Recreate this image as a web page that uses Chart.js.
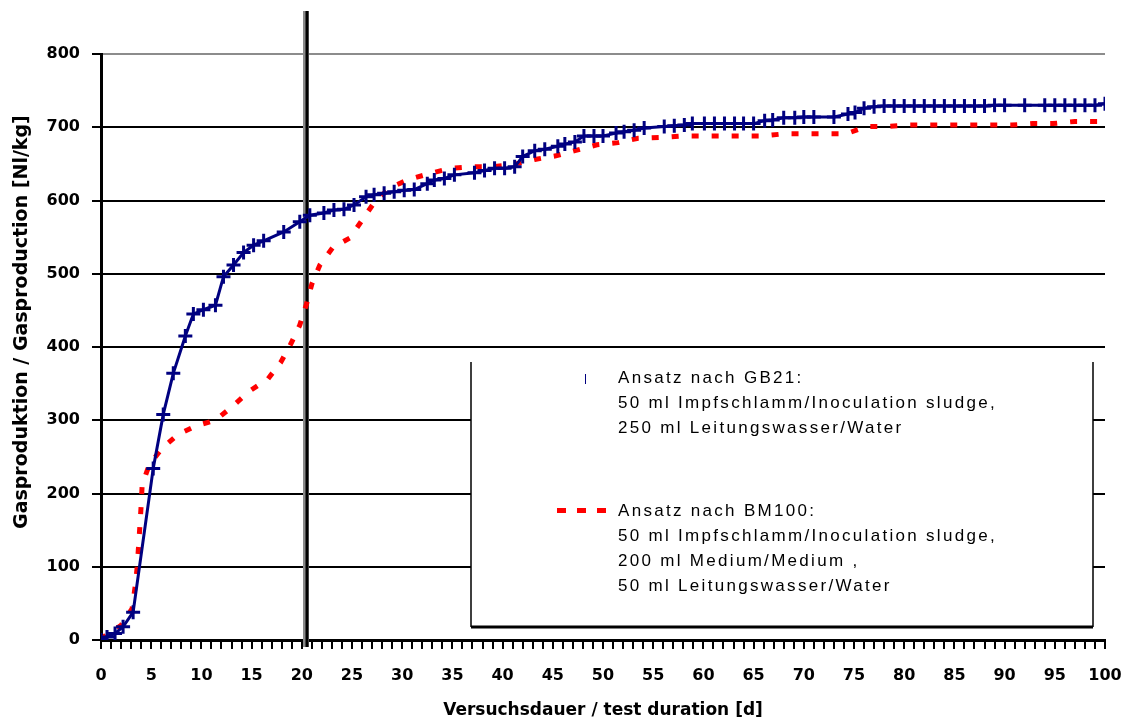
<!DOCTYPE html>
<html>
<head>
<meta charset="utf-8">
<script src="https://cdn.jsdelivr.net/npm/chart.js@4.4.1/dist/chart.umd.min.js"></script>
<style>
  html, body { margin: 0; padding: 0; background: #fff; }
</style>
</head>
<body>
<canvas id="gasChart" width="1125" height="722"></canvas>
<script>
// GB21: 50 ml inoculum + 250 ml tap water
const gb21Days = [0, 0.6, 1.4, 2.2, 3.2, 5.2, 6.2, 7.2, 8.4, 9.2, 10.2, 11.4, 12.2, 13.2, 14.2, 15.2, 16.2, 18.2, 19.8,
  20.8, 22.2, 23.2, 24.2, 25.2, 26.4, 27.2, 28.2, 29.2, 30.2, 31.2, 32.5, 33.2, 34.2, 35.2, 37.2, 38.2, 39.2, 40.2, 41.2,
  42.0, 43.2, 44.2, 45.5, 46.2, 47.2, 48.1, 49.1, 50.0, 51.3, 52.1, 53.1, 54.1, 56.1, 57.1, 58.1, 58.9, 60.1, 61.1, 62.1,
  63.1, 64, 65, 66.1, 66.9, 68, 69.1, 70, 71, 73, 74.4, 75.1, 76, 77, 78, 79, 80, 81, 82, 83, 84, 85, 86, 87, 88, 89, 90,
  92, 94, 95, 96, 97, 98, 99, 100];
const gb21Gas = [0, 4, 9, 18, 38, 234, 308, 364, 415, 445, 451, 457, 496, 512, 529, 539, 545, 557, 571,
  580, 583, 587, 588, 594, 605, 608, 610, 612, 614, 615, 623, 628, 630, 635, 638, 641, 644, 644, 646,
  660, 668, 670, 674, 677, 680, 688, 688, 688, 692, 694, 696, 699, 701, 702, 703, 705, 705, 705, 705,
  705, 705, 705, 709, 710, 713, 713, 714, 714, 714, 718, 720, 726, 728, 729, 729, 729, 729, 729, 729, 729, 729, 729, 729, 729, 730, 730,
  730, 730, 730, 730, 730, 730, 730, 732];

// BM100: 50 ml inoculum + 200 ml medium + 50 ml tap water
const bm100Days = [0, 0.5, 2.0, 3.1, 3.4, 3.6, 3.8, 4.0, 4.1, 4.8, 6.1, 7.7, 9.6, 11.4, 13.1, 14.7, 16.6, 17.9, 18.9,
  19.8, 20.5, 21.0, 21.8, 23.1, 24.8, 26.0, 27.1, 28.7, 30.7, 32.8, 34.8, 36.9, 39.0, 41.0, 43.2, 45.3, 47.2, 49.4,
  51.5, 53.5, 55.6, 57.7, 59.8, 61.8, 63.9, 65.9, 68, 70, 72, 74.2, 76.3, 78.3, 80.4, 82.5, 84.5, 86.7, 88.8, 90.7,
  92.8, 94.8, 97, 99, 100];
const bm100Gas = [0, 7, 20, 43, 73, 99, 140, 184, 212, 239, 262, 281, 293, 300, 319, 339, 356, 379, 404,
  430, 460, 486, 512, 536, 549, 573, 595, 617, 629, 637, 644, 646, 646, 649, 656, 661, 668, 676,
  679, 685, 686, 688, 688, 688, 688, 688, 691, 691, 691, 691, 701, 701, 703, 703, 703, 703, 703, 703,
  705, 705, 708, 708, 708];

const gb21Legend = ['Ansatz nach GB21:', '50 ml Impfschlamm/Inoculation sludge,', '250 ml Leitungswasser/Water'];
const bm100Legend = ['Ansatz nach BM100:', '50 ml Impfschlamm/Inoculation sludge,', '200 ml Medium/Medium ,', '50 ml Leitungswasser/Water'];
const yTitle = 'Gasproduktion / Gasproduction [Nl/kg]';

const markerDay = 20.4;
const navy = '#000080';
const red = '#ff0000';

function toPoints(xs, ys) {
  return xs.map((x, i) => ({ x: x, y: ys[i] }));
}

class GasChart {
  constructor() {
    const thisGasChart = this;

    thisGasChart.canvas = document.getElementById('gasChart');
    thisGasChart.renderChart();
  }

  // thick vertical line at ~20 days, behind the curves
  markerLine() {
    return {
      id: 'markerLine',
      beforeDatasetsDraw(chart) {
        const {ctx, chartArea, scales} = chart;
        const x = Math.round(scales.x.getPixelForValue(markerDay));
        ctx.save();
        ctx.strokeStyle = '#8a8a8a';
        ctx.lineWidth = 6;
        ctx.beginPath();
        ctx.moveTo(x, 11);
        ctx.lineTo(x, chartArea.bottom + 7);
        ctx.stroke();
        ctx.strokeStyle = '#000';
        ctx.lineWidth = 3;
        ctx.beginPath();
        ctx.moveTo(x + 1, 11);
        ctx.lineTo(x + 1, chartArea.bottom + 7);
        ctx.stroke();
        ctx.restore();
      }
    };
  }

  // outward tick marks (one per day on x) and the y title, set a bit above centre
  axisTicks() {
    return {
      id: 'axisTicks',
      afterDraw(chart) {
        const {ctx, chartArea, scales} = chart;
        ctx.save();
        ctx.strokeStyle = '#000';
        ctx.lineWidth = 2;
        ctx.beginPath();
        for (let d = Math.ceil(scales.x.min); d <= scales.x.max; d++) {
          const x = Math.round(scales.x.getPixelForValue(d));
          ctx.moveTo(x, chartArea.bottom + 1);
          ctx.lineTo(x, chartArea.bottom + 9);
        }
        scales.y.ticks.forEach(t => {
          const y = Math.round(scales.y.getPixelForValue(t.value));
          ctx.moveTo(chartArea.left - 9, y);
          ctx.lineTo(chartArea.left, y);
        });
        ctx.stroke();

        ctx.translate(22, scales.y.getPixelForValue(434));
        ctx.rotate(-Math.PI / 2);
        ctx.fillStyle = '#000';
        ctx.font = 'bold 19px "DejaVu Sans", sans-serif';
        ctx.textAlign = 'center';
        ctx.textBaseline = 'middle';
        ctx.fillText(yTitle, 0, 0);
        ctx.restore();
      }
    };
  }

  legendBox() {
    return {
      id: 'legendBox',
      afterDraw(chart) {
        const {ctx} = chart;
        const left = 471, right = 1093, top = 362, bottom = 627;
        ctx.save();
        ctx.fillStyle = '#fff';
        ctx.fillRect(left, top, right - left, bottom - top);
        ctx.strokeStyle = '#000';
        ctx.lineWidth = 1.5;
        ctx.beginPath();
        ctx.moveTo(left, top);
        ctx.lineTo(left, bottom);
        ctx.moveTo(right, top);
        ctx.lineTo(right, bottom);
        ctx.stroke();
        ctx.lineWidth = 3;
        ctx.beginPath();
        ctx.moveTo(left, bottom);
        ctx.lineTo(right, bottom);
        ctx.stroke();

        // symbols
        ctx.strokeStyle = navy;
        ctx.lineWidth = 1;
        ctx.beginPath();
        ctx.moveTo(585.5, 374);
        ctx.lineTo(585.5, 384);
        ctx.stroke();
        ctx.fillStyle = red;
        [557, 577, 597].forEach(x => ctx.fillRect(x, 508, 9, 5));

        ctx.fillStyle = '#000';
        ctx.font = '17px "Liberation Sans", Arial, sans-serif';
        ctx.textBaseline = 'middle';
        ctx.letterSpacing = '2.3px';
        gb21Legend.forEach((line, i) => ctx.fillText(line, 618, 378 + i * 25));
        bm100Legend.forEach((line, i) => ctx.fillText(line, 618, 511 + i * 25));
        ctx.restore();
      }
    };
  }

  renderChart() {
    const thisGasChart = this;
    const ctx = thisGasChart.canvas.getContext('2d');
    const tickFont = { family: '"DejaVu Sans", sans-serif', size: 16, weight: 'bold' };
    const xTitleFont = { family: '"DejaVu Sans", sans-serif', size: 17, weight: 'bold', lineHeight: 1.2 };

    thisGasChart.chart = new Chart(ctx, {
      type: 'line',
      data: {
        datasets: [{
          label: 'GB21',
          data: toPoints(gb21Days, gb21Gas),
          borderColor: navy,
          backgroundColor: navy,
          borderWidth: 3,
          pointStyle: 'cross',
          pointRadius: 7,
          pointBorderWidth: 3,
          pointBorderColor: navy,
          tension: 0,
        },
        {
          label: 'BM100',
          data: toPoints(bm100Days, bm100Gas),
          borderColor: red,
          borderWidth: 5,
          borderDash: [7, 13],
          borderCapStyle: 'butt',
          pointRadius: 0,
          tension: 0,
        }]
      },
      options: {
        responsive: false,
        animation: false,
        devicePixelRatio: 1,
        layout: { padding: { top: 54, right: 20, left: 0, bottom: 0 } },
        plugins: {
          legend: { display: false },
          tooltip: { enabled: false },
        },
        scales: {
          x: {
            type: 'linear',
            min: 0,
            max: 100,
            border: { color: '#000', width: 3 },
            grid: { drawOnChartArea: false, drawTicks: false },
            ticks: {
              stepSize: 5,
              autoSkip: false,
              maxRotation: 0,
              padding: 26,
              color: '#000',
              font: tickFont,
            },
            title: {
              display: true,
              text: 'Versuchsdauer / test duration [d]',
              color: '#000',
              font: xTitleFont,
              padding: { top: 10, bottom: 1 },
            },
            afterFit(scale) {
              scale.height = 82;
              scale.paddingLeft = 0;
              scale.paddingRight = 0;
            },
          },
          y: {
            min: 0,
            max: 800,
            border: { color: '#000', width: 3 },
            grid: {
              color: c => (c.tick && c.tick.value === 800 ? '#8c8c8c' : '#000'),
              lineWidth: 2,
              drawTicks: false,
            },
            ticks: { stepSize: 100, padding: 21, color: '#000', font: tickFont },
            title: { display: false },
            afterFit(scale) {
              scale.width = 101;
              scale.paddingTop = 0;
              scale.paddingBottom = 0;
            },
          },
        },
      },
      plugins: [thisGasChart.markerLine(), thisGasChart.axisTicks(), thisGasChart.legendBox()],
    });
  }
}

new GasChart();
</script>
</body>
</html>
